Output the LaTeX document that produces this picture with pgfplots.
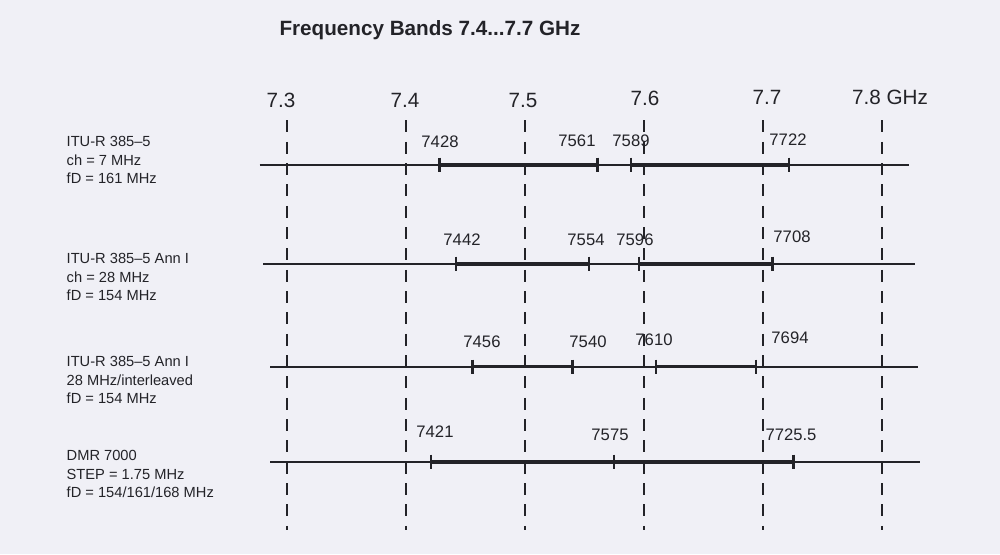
\documentclass[border=0pt]{standalone}
\usepackage{fontspec}
\setmainfont{Liberation Sans}
\usepackage{pgfplots}
\pgfplotsset{compat=1.18}
\definecolor{ink}{RGB}{35,35,40}
\definecolor{paper}{RGB}{240,240,246}
\begin{document}
\begin{tikzpicture}
\begin{axis}[
  scale only axis, width=750pt, height=415.5pt,
  xmin=7058.8, xmax=7899.2, ymin=0.0707, ymax=5.6667,
  axis lines=none, ticks=none, clip=false,
  axis background/.style={fill=paper},
]
% dashed reference lines
\pgfplotsinvokeforeach{7300,7400,7500,7600,7700,7800}{
  \addplot[ink, line width=1.4pt, dash pattern=on 9pt off 7pt] coordinates {(#1,4.45) (#1,0.31)};
}
% base lines
\addplot[ink, line width=1.2pt] coordinates {(7277,4) (7823,4)};
\addplot[ink, line width=1.2pt] coordinates {(7280,3) (7828,3)};
\addplot[ink, line width=1.2pt] coordinates {(7286,1.96) (7830,1.96)};
\addplot[ink, line width=1.2pt] coordinates {(7286,1) (7832,1)};
% band segments
\addplot[ink, line width=2.8pt] coordinates {(7428,4) (7561,4)};
\addplot[ink, line width=2.8pt] coordinates {(7589,4) (7722,4)};
\addplot[ink, line width=2.8pt] coordinates {(7442,3) (7554,3)};
\addplot[ink, line width=2.8pt] coordinates {(7596,3) (7708,3)};
\addplot[ink, line width=2.3pt] coordinates {(7456,1.96) (7540,1.96)};
\addplot[ink, line width=2.3pt] coordinates {(7610,1.96) (7694,1.96)};
\addplot[ink, line width=2.8pt] coordinates {(7421,1) (7725.5,1)};
% band edge ticks
\addplot[ink, only marks, mark=|, mark size=5.5pt, mark options={line width=1.8pt}] coordinates {
  (7428,4) (7561,4) (7589,4) (7722,4)
  (7442,3) (7554,3) (7596,3) (7708,3)
  (7456,1.96) (7540,1.96) (7610,1.96) (7694,1.96)
  (7421,1) (7575,1) (7725.5,1)
};
% title
\node[font=\fontsize{15.5}{18}\selectfont\bfseries, text=ink] at (rel axis cs:0.43,0.9458) {Frequency Bands 7.4...7.7 GHz};
% top scale labels
\node[font=\fontsize{15.5}{18}\selectfont, text=ink] at (rel axis cs:0.281,0.8195) {7.3};
\node[font=\fontsize{15.5}{18}\selectfont, text=ink] at (rel axis cs:0.405,0.8195) {7.4};
\node[font=\fontsize{15.5}{18}\selectfont, text=ink] at (rel axis cs:0.523,0.8195) {7.5};
\node[font=\fontsize{15.5}{18}\selectfont, text=ink] at (rel axis cs:0.645,0.8231) {7.6};
\node[font=\fontsize{15.5}{18}\selectfont, text=ink] at (rel axis cs:0.767,0.8249) {7.7};
\node[font=\fontsize{15.5}{18}\selectfont, text=ink] at (rel axis cs:0.890,0.8249) {7.8 GHz};
% row labels
\tikzset{rowlab/.style={anchor=west, align=left, text=ink, font=\fontsize{11}{14.2}\selectfont}}
\node[rowlab] at (rel axis cs:0.062,0.7112) {ITU-R 385--5\\ch = 7 MHz\\fD = 161 MHz};
\node[rowlab] at (rel axis cs:0.062,0.5000) {ITU-R 385--5 Ann I\\ch = 28 MHz\\fD = 154 MHz};
\node[rowlab] at (rel axis cs:0.062,0.3141) {ITU-R 385--5 Ann I\\28 MHz/interleaved\\fD = 154 MHz};
\node[rowlab] at (rel axis cs:0.062,0.1444) {DMR 7000\\STEP = 1.75 MHz\\fD = 154/161/168 MHz};
% frequency labels
\tikzset{flab/.style={text=ink, font=\fontsize{12.5}{15}\selectfont, inner sep=1pt}}
\node[flab] at (rel axis cs:0.440,0.7437) {7428};
\node[flab] at (rel axis cs:0.577,0.7455) {7561};
\node[flab] at (rel axis cs:0.631,0.7455) {7589};
\node[flab] at (rel axis cs:0.788,0.7473) {7722};
\node[flab] at (rel axis cs:0.462,0.5668) {7442};
\node[flab] at (rel axis cs:0.586,0.5668) {7554};
\node[flab] at (rel axis cs:0.635,0.5668) {7596};
\node[flab] at (rel axis cs:0.792,0.5722) {7708};
\node[flab] at (rel axis cs:0.482,0.3827) {7456};
\node[flab] at (rel axis cs:0.588,0.3827) {7540};
\node[flab] at (rel axis cs:0.654,0.3863) {7610};
\node[flab] at (rel axis cs:0.790,0.3899) {7694};
\node[flab] at (rel axis cs:0.435,0.2202) {7421};
\node[flab] at (rel axis cs:0.610,0.2148) {7575};
\node[flab] at (rel axis cs:0.791,0.2148) {7725.5};
\end{axis}
\end{tikzpicture}
\end{document}
